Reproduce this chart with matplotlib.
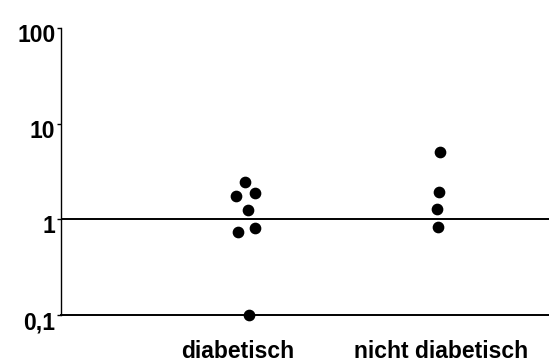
import numpy as np
import matplotlib.pyplot as plt
import matplotlib.transforms as mtransforms

plt.rcParams['font.family'] = ['Liberation Sans', 'DejaVu Sans']

# groups and measured values (log scale)
groups = ['diabetisch', 'nicht diabetisch']
diab_vals = [2.45, 1.75, 1.87, 1.25, 0.73, 0.82, 0.1]
diab_jitter = [-0.01, -0.06, 0.04, 0.005, -0.045, 0.04, 0.01]
nondiab_vals = [5.0, 1.92, 1.27, 0.84]
nondiab_jitter = [0.01, 0.005, -0.003, 0.0]

yticks = [0.1, 1, 10, 100]
yticklabels = ['0,1', '1', '10', '100']

fig = plt.figure(figsize=(5.49, 3.63), dpi=100)
ax = fig.add_axes([0.111, 0.1322, 0.889, 0.7906])

ax.set_yscale('log')
ax.set_ylim(0.1, 100)
ax.set_xlim(-0.974, 1.581)

ax.scatter(np.zeros(len(diab_vals)) + diab_jitter, diab_vals,
           s=55, color='black', zorder=3, clip_on=False)
ax.scatter(np.ones(len(nondiab_vals)) + nondiab_jitter, nondiab_vals,
           s=55, color='black', zorder=3, clip_on=False)

# reference line at 1
ax.axhline(1, color='black', lw=1.4)

for side in ['top', 'right']:
    ax.spines[side].set_visible(False)
ax.spines['left'].set_linewidth(1.0)
ax.spines['bottom'].set_linewidth(1.4)

ax.set_yticks(yticks)
ax.set_yticklabels(yticklabels, fontsize=16.5, fontweight='bold')
ax.yaxis.set_minor_locator(plt.NullLocator())
ax.tick_params(axis='y', length=3, width=1, pad=1)

# y labels sit a little below their ticks
shift = mtransforms.ScaledTranslation(0, -5 / 100, fig.dpi_scale_trans)
for lbl in ax.get_yticklabels():
    lbl.set_transform(lbl.get_transform() + shift)

ax.set_xticks([-0.05, 1.016])
ax.set_xticklabels(groups, fontsize=16.5, fontweight='bold')
ax.tick_params(axis='x', length=0, pad=18)

fig.savefig('out.png', dpi=100)
